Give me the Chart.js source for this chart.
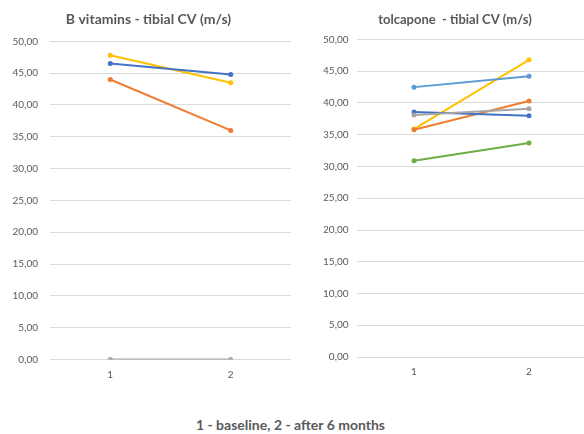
<!DOCTYPE html>
<html>
<head>
<meta charset="utf-8">
<script src="https://cdn.jsdelivr.net/npm/chart.js@4.4.1/dist/chart.umd.min.js"></script>
<style>
  html, body { margin: 0; padding: 0; background: #fff; }
  #wrap { position: relative; width: 584px; height: 434px; overflow: hidden; }
  .box { position: absolute; top: 0; height: 400px; }
  #box-left { left: 0; width: 297px; }
  #box-right { left: 297px; width: 317px; }
  #caption {
    position: absolute; left: 0; width: 581px; top: 416px;
    text-align: center; font: bold 14px Lato, sans-serif; color: #595959;
  }
</style>
</head>
<body>
<div id="wrap">
  <div class="box" id="box-left"><canvas id="chart-left"></canvas></div>
  <div class="box" id="box-right"><canvas id="chart-right"></canvas></div>
  <div id="caption">1 - baseline, 2 - after 6 months</div>
</div>
<script>
// Timepoints: 1 = baseline, 2 = after 6 months
const timepoints = ['1', '2'];
const yMin = 0;
const yMax = 50;
const yStep = 5;

// B vitamins group (tibial CV, m/s)
const vitBlue = [46.5, 44.8];
const vitOrange = [44.0, 36.0];
const vitGray = [0, 0];
const vitYellow = [47.8, 43.5];

// tolcapone group (tibial CV, m/s)
const tolBlue = [38.6, 38.0];
const tolOrange = [35.8, 40.3];
const tolGray = [38.1, 39.1];
const tolYellow = [35.9, 46.8];
const tolLightBlue = [42.5, 44.2];
const tolGreen = [30.9, 33.7];

const C = {
  blue: '#4472C4', orange: '#ED7D31', gray: '#A5A5A5',
  yellow: '#FFC000', lightBlue: '#5B9BD5', green: '#70AD47'
};

Chart.defaults.font.family = 'Lato';
Chart.defaults.color = '#595959';

function series(data, color) {
  return {
    data: data,
    borderColor: color,
    backgroundColor: color,
    borderWidth: 2,
    pointRadius: 2.5,
    pointBorderWidth: 0,
    tension: 0
  };
}

function makeChart(id, title, datasets, o) {
  return new Chart(document.getElementById(id), {
    type: 'line',
    data: { labels: timepoints, datasets: datasets },
    options: {
      responsive: true,
      maintainAspectRatio: false,
      animation: false,
      layout: { padding: { left: o.padLeft, right: o.padRight, top: 0, bottom: o.padBottom } },
      plugins: {
        legend: { display: false },
        tooltip: { enabled: false },
        title: {
          display: true,
          text: title,
          font: { size: o.titleSize, weight: 'bold' },
          color: '#595959',
          padding: { top: o.titleTop, bottom: o.titleBottom }
        }
      },
      scales: {
        x: {
          offset: true,
          grid: { display: false, drawTicks: false },
          border: { display: false },
          ticks: { font: { size: 10 }, padding: 9 },
          afterFit: s => { s.height = 24; }
        },
        y: {
          min: yMin, max: yMax,
          grid: { color: '#D9D9D9', lineWidth: 1, drawTicks: false },
          border: { display: false },
          ticks: {
            stepSize: yStep,
            font: { size: 10 },
            padding: o.tickPad,
            callback: v => v.toFixed(2).replace('.', ',')
          },
          afterFit: s => { s.width = o.axisWidth; }
        }
      }
    }
  });
}

// Left panel
makeChart('chart-left', 'B vitamins - tibial CV (m/s)', [
  series(vitGray, C.gray),
  series(vitOrange, C.orange),
  series(vitBlue, C.blue),
  series(vitYellow, C.yellow)
], { padLeft: 6, padRight: 6, padBottom: 16.5, titleSize: 14, titleTop: 10.6, titleBottom: 13.9, axisWidth: 44, tickPad: 12 });

// Right panel (plot area runs past the picture edge, as in the original)
makeChart('chart-right', 'tolcapone  - tibial CV (m/s)', [
  series(tolGreen, C.green),
  series(tolGray, C.gray),
  series(tolBlue, C.blue),
  series(tolOrange, C.orange),
  series(tolLightBlue, C.lightBlue),
  series(tolYellow, C.yellow)
], { padLeft: 26.5, padRight: 27.5, padBottom: 19, titleSize: 13, titleTop: 12.2, titleBottom: 11.7, axisWidth: 33, tickPad: 8 });
</script>
</body>
</html>
